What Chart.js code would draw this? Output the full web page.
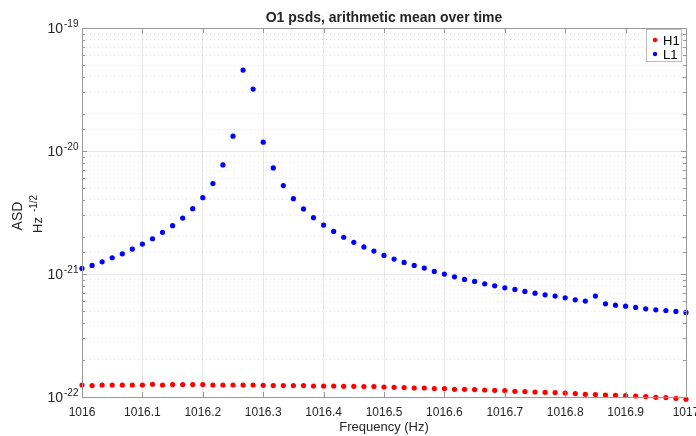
<!DOCTYPE html>
<html>
<head>
<meta charset="utf-8">
<title>O1 psds</title>
<script src="https://cdn.jsdelivr.net/npm/chart.js@4.4.1/dist/chart.umd.min.js"></script>
<style>
  html, body { margin: 0; padding: 0; background: #fff; }
  #wrap { width: 696px; height: 436px; }
</style>
</head>
<body>
<div id="wrap"><canvas id="psdChart" width="696" height="436"></canvas></div>
<script>
// frequency bins (Hz)
const freqs = [
  1016.0000, 1016.0167, 1016.0333, 1016.0500, 1016.0667, 1016.0833, 1016.1000, 1016.1167,
  1016.1333, 1016.1500, 1016.1667, 1016.1833, 1016.2000, 1016.2167, 1016.2333, 1016.2500,
  1016.2667, 1016.2833, 1016.3000, 1016.3167, 1016.3333, 1016.3500, 1016.3667, 1016.3833,
  1016.4000, 1016.4167, 1016.4333, 1016.4500, 1016.4667, 1016.4833, 1016.5000, 1016.5167,
  1016.5333, 1016.5500, 1016.5667, 1016.5833, 1016.6000, 1016.6167, 1016.6333, 1016.6500,
  1016.6667, 1016.6833, 1016.7000, 1016.7167, 1016.7333, 1016.7500, 1016.7667, 1016.7833,
  1016.8000, 1016.8167, 1016.8333, 1016.8500, 1016.8667, 1016.8833, 1016.9000, 1016.9167,
  1016.9333, 1016.9500, 1016.9667, 1016.9833, 1017.0000
];

// H1 amplitude spectral density
const h1Asd = [
  1.252e-22, 1.238e-22, 1.252e-22, 1.252e-22, 1.252e-22, 1.252e-22, 1.252e-22, 1.269e-22,
  1.252e-22, 1.262e-22, 1.262e-22, 1.262e-22, 1.262e-22, 1.252e-22, 1.252e-22, 1.252e-22,
  1.252e-22, 1.252e-22, 1.245e-22, 1.238e-22, 1.238e-22, 1.238e-22, 1.238e-22, 1.229e-22,
  1.229e-22, 1.229e-22, 1.222e-22, 1.222e-22, 1.215e-22, 1.215e-22, 1.206e-22, 1.199e-22,
  1.193e-22, 1.184e-22, 1.184e-22, 1.171e-22, 1.171e-22, 1.155e-22, 1.155e-22, 1.149e-22,
  1.140e-22, 1.134e-22, 1.127e-22, 1.113e-22, 1.106e-22, 1.098e-22, 1.092e-22, 1.086e-22,
  1.078e-22, 1.066e-22, 1.052e-22, 1.046e-22, 1.038e-22, 1.032e-22, 1.027e-22, 1.019e-22,
  1.008e-22, 0.994e-22, 0.989e-22, 0.976e-22, 0.958e-22
];

// L1 amplitude spectral density
const l1Asd = [
  1.110e-21, 1.175e-21, 1.257e-21, 1.355e-21, 1.460e-21, 1.596e-21, 1.751e-21, 1.935e-21,
  2.180e-21, 2.470e-21, 2.850e-21, 3.400e-21, 4.170e-21, 5.430e-21, 7.710e-21, 1.320e-20,
  4.550e-20, 3.190e-20, 1.180e-20, 7.280e-21, 5.230e-21, 4.100e-21, 3.380e-21, 2.870e-21,
  2.500e-21, 2.220e-21, 1.990e-21, 1.810e-21, 1.660e-21, 1.536e-21, 1.417e-21, 1.322e-21,
  1.243e-21, 1.175e-21, 1.117e-21, 1.050e-21, 9.980e-22, 9.490e-22, 9.040e-22, 8.710e-22,
  8.320e-22, 8.020e-22, 7.720e-22, 7.490e-22, 7.220e-22, 6.990e-22, 6.770e-22, 6.610e-22,
  6.400e-22, 6.170e-22, 6.020e-22, 6.610e-22, 5.720e-22, 5.580e-22, 5.480e-22, 5.350e-22,
  5.210e-22, 5.110e-22, 5.050e-22, 4.960e-22, 4.870e-22
];

const xTickLabels = ["1016", "1016.1", "1016.2", "1016.3", "1016.4", "1016.5",
                     "1016.6", "1016.7", "1016.8", "1016.9", "1017"];
const yDecades = [1e-22, 1e-21, 1e-20, 1e-19];
const yExponents = ["-22", "-21", "-20", "-19"];

const FONT = '"Liberation Sans", Arial, Helvetica, sans-serif';
const TEXT = "#262626";
const AXIS = "#999999";

function isDecade(v) {
  const l = Math.log10(v);
  return Math.abs(l - Math.round(l)) < 1e-6;
}

function toPoints(ys) {
  return freqs.map((f, i) => ({ x: f, y: ys[i] }));
}

// box, inward ticks, superscript labels, titles and legend in Matlab style
const matlabAxes = {
  id: "matlabAxes",
  afterDatasetsDraw(chart) {
    const { ctx, chartArea: a, scales } = chart;
    ctx.save();
    ctx.strokeStyle = AXIS;
    ctx.lineWidth = 1;
    ctx.beginPath();
    scales.y.ticks.forEach(t => {
      const y = Math.round(scales.y.getPixelForValue(t.value)) + 0.5;
      const len = isDecade(t.value) ? 5 : 3;
      ctx.moveTo(a.left, y); ctx.lineTo(a.left + len, y);
      ctx.moveTo(a.right, y); ctx.lineTo(a.right - len, y);
    });
    scales.x.ticks.forEach(t => {
      const x = Math.round(scales.x.getPixelForValue(t.value)) + 0.5;
      ctx.moveTo(x, a.bottom); ctx.lineTo(x, a.bottom - 5);
      ctx.moveTo(x, a.top); ctx.lineTo(x, a.top + 5);
    });
    ctx.stroke();
    ctx.strokeRect(Math.round(a.left) + 0.5, Math.round(a.top) + 0.5,
                   Math.round(a.right - a.left), Math.round(a.bottom - a.top));
    ctx.restore();
  },
  afterDraw(chart) {
    const { ctx, chartArea: a, scales } = chart;
    ctx.save();
    ctx.fillStyle = TEXT;

    // y tick labels as 10^n
    yDecades.forEach((v, i) => {
      const y = scales.y.getPixelForValue(v);
      ctx.font = "14px " + FONT;
      ctx.textAlign = "right";
      ctx.textBaseline = "middle";
      ctx.fillText("10", a.left - 19, y + 1);
      ctx.font = "10px " + FONT;
      ctx.textAlign = "left";
      ctx.fillText(yExponents[i], a.left - 18, y - 4);
    });

    // title
    ctx.font = "bold 14px " + FONT;
    ctx.textAlign = "center";
    ctx.textBaseline = "middle";
    ctx.fillText("O1 psds, arithmetic mean over time", (a.left + a.right) / 2, 18);

    // x title
    ctx.font = "13px " + FONT;
    ctx.fillText("Frequency (Hz)", (a.left + a.right) / 2, 427);

    // y title, two rotated lines
    ctx.save();
    ctx.translate(18, 216);
    ctx.rotate(-Math.PI / 2);
    ctx.font = "14px " + FONT;
    ctx.fillText("ASD", 0, 0);
    ctx.restore();

    ctx.save();
    ctx.translate(38, 233);
    ctx.rotate(-Math.PI / 2);
    ctx.textAlign = "left";
    ctx.font = "13px " + FONT;
    ctx.fillText("Hz", 0, 0);
    const hzW = ctx.measureText("Hz").width;
    ctx.font = "10px " + FONT;
    ctx.fillText("-1/2", hzW + 5, -4);
    ctx.restore();

    // legend
    const lx = a.right - 40, ly = a.top + 1, lw = 35, lh = 32;
    ctx.fillStyle = "#ffffff";
    ctx.fillRect(lx, ly, lw, lh);
    ctx.strokeStyle = "#bdbdbd";
    ctx.strokeRect(lx + 0.5, ly + 0.5, lw, lh);
    chart.data.datasets.forEach((ds, i) => {
      const cy = ly + 11 + i * 14;
      ctx.fillStyle = ds.backgroundColor;
      ctx.beginPath();
      ctx.arc(lx + 9, cy, 2.2, 0, Math.PI * 2);
      ctx.fill();
      ctx.fillStyle = "#000000";
      ctx.font = "13px " + FONT;
      ctx.textAlign = "left";
      ctx.textBaseline = "middle";
      ctx.fillText(ds.label, lx + 17, cy + 1);
    });
    ctx.restore();
  }
};

new Chart(document.getElementById("psdChart").getContext("2d"), {
  type: "scatter",
  data: {
    datasets: [
      {
        label: "H1",
        data: toPoints(h1Asd),
        backgroundColor: "#ff0000",
        borderWidth: 0,
        pointRadius: 2.6,
        clip: false
      },
      {
        label: "L1",
        data: toPoints(l1Asd),
        backgroundColor: "#0000ff",
        borderWidth: 0,
        pointRadius: 2.6,
        clip: false
      }
    ]
  },
  options: {
    responsive: false,
    animation: false,
    events: [],
    layout: { padding: { top: 28, right: 10, left: 0, bottom: 0 } },
    plugins: {
      legend: { display: false },
      title: { display: false },
      tooltip: { enabled: false }
    },
    scales: {
      x: {
        type: "linear",
        min: 1016,
        max: 1017,
        afterFit: s => { s.height = 39; s.paddingLeft = 0; s.paddingRight = 0; },
        afterBuildTicks: s => {
          s.ticks = xTickLabels.map(l => ({ value: parseFloat(l) }));
        },
        ticks: {
          padding: 8,
          color: TEXT,
          font: { family: FONT, size: 12 },
          maxRotation: 0,
          autoSkip: false,
          callback: (v, i) => xTickLabels[i]
        },
        grid: {
          drawTicks: false,
          color: "rgba(38,38,38,0.1)",
          lineWidth: 1
        },
        border: { display: false }
      },
      y: {
        type: "logarithmic",
        min: 1e-22,
        max: 1e-19,
        afterFit: s => { s.width = 82; s.paddingTop = 0; s.paddingBottom = 0; },
        ticks: { display: false },
        grid: {
          drawTicks: false,
          color: c => (c.tick && isDecade(c.tick.value)) ? "rgba(38,38,38,0.1)" : "rgba(38,38,38,0.13)",
          lineWidth: 1
        },
        border: {
          display: false,
          dash: c => (c.tick && !isDecade(c.tick.value)) ? [1, 3] : []
        }
      }
    }
  },
  plugins: [matlabAxes]
});
</script>
</body>
</html>
